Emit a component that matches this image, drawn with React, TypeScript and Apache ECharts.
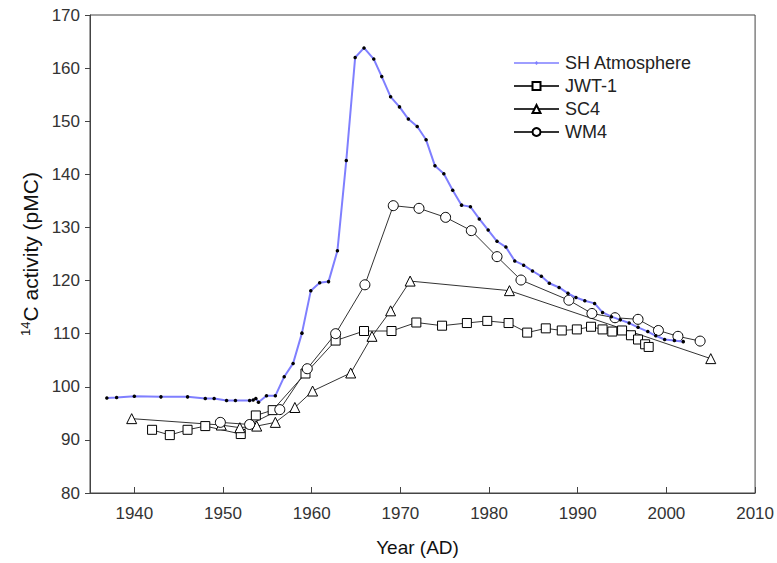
import React, { useEffect, useRef } from 'react';
import * as echarts from 'echarts';

const shYears = [1936.9, 1938.0, 1940.0, 1943.0, 1946.0, 1948.0, 1949.0, 1950.4, 1951.4, 1953.0, 1953.4, 1953.7, 1954.0, 1954.9, 1955.9, 1956.9, 1957.9, 1958.9, 1959.9, 1960.9, 1961.9, 1962.9, 1963.9, 1964.9, 1965.9, 1967.0, 1967.9, 1968.9, 1969.9, 1970.9, 1971.9, 1972.9, 1973.9, 1974.9, 1975.9, 1976.9, 1977.9, 1978.9, 1979.9, 1980.9, 1981.9, 1982.9, 1983.9, 1984.9, 1985.9, 1986.8, 1987.9, 1988.9, 1989.8, 1990.8, 1991.9, 1992.8, 1993.8, 1994.8, 1995.8, 1996.8, 1997.9, 1998.8, 1999.8, 2000.9, 2001.9];
const shValues = [97.9, 98.0, 98.2, 98.1, 98.1, 97.8, 97.8, 97.4, 97.4, 97.4, 97.5, 97.8, 97.1, 98.3, 98.3, 101.9, 104.4, 110.1, 118.1, 119.6, 119.8, 125.6, 142.6, 162.0, 163.8, 161.7, 158.4, 154.6, 152.7, 150.4, 149.0, 146.5, 141.6, 140.1, 137.0, 134.2, 133.9, 131.6, 129.5, 127.4, 126.3, 123.7, 122.9, 121.8, 120.8, 119.5, 118.7, 117.6, 116.8, 116.2, 115.7, 114.0, 113.2, 112.6, 112.0, 111.2, 110.4, 109.6, 108.9, 108.7, 108.5];

const jwtYears = [1942.0, 1944.0, 1946.0, 1948.0, 1952.0, 1953.7, 1955.6, 1959.3, 1962.7, 1965.9, 1969.0, 1971.8, 1974.7, 1977.5, 1979.8, 1982.2, 1984.3, 1986.4, 1988.2, 1989.9, 1991.5, 1992.8, 1993.9, 1995.0, 1996.0, 1996.8, 1997.6, 1998.0];
const jwtValues = [91.9, 90.9, 91.9, 92.6, 91.1, 94.6, 95.6, 102.5, 108.7, 110.5, 110.5, 112.1, 111.5, 112.0, 112.4, 112.0, 110.2, 111.0, 110.6, 110.8, 111.3, 110.8, 110.4, 110.6, 109.7, 108.9, 108.0, 107.5];

const sc4Years = [1939.7, 1949.8, 1951.9, 1953.8, 1955.9, 1958.1, 1960.1, 1964.4, 1966.8, 1968.9, 1971.1, 1982.3, 2005.0];
const sc4Values = [94.0, 92.8, 92.3, 92.6, 93.3, 96.1, 99.2, 102.6, 109.5, 114.3, 119.9, 118.1, 105.3];

const wm4Years = [1949.7, 1953.0, 1956.4, 1959.5, 1962.7, 1966.0, 1969.2, 1972.1, 1975.1, 1978.0, 1980.9, 1983.6, 1989.0, 1991.6, 1994.2, 1996.8, 1999.1, 2001.3, 2003.8];
const wm4Values = [93.3, 92.9, 95.7, 103.4, 110.0, 119.2, 134.1, 133.6, 131.9, 129.4, 124.5, 120.1, 116.3, 113.8, 113.0, 112.7, 110.6, 109.5, 108.6];

const xTicks = [1940, 1950, 1960, 1970, 1980, 1990, 2000, 2010];
const seriesNames = ['SH Atmosphere', 'JWT-1', 'SC4', 'WM4'];

const pairs = (xs: number[], ys: number[]) => xs.map((x, i) => [x, ys[i]]);

const FONT = 'Liberation Sans, Arial, sans-serif';
const SH_BLUE = '#7f7fff';
const SH_ICON = 'path://M0,4.2 L45,4.2 L45,5.8 L0,5.8 Z M22.5,3 L24.5,5 L22.5,7 L20.5,5 Z';

export default function App() {
  const ref = useRef<HTMLDivElement>(null);
  useEffect(() => {
    const chart = echarts.init(ref.current!, null, { renderer: 'svg' });
    const hollow = (symbol: string, size: number, name: string, xs: number[], ys: number[]) => ({
      name,
      type: 'line',
      data: pairs(xs, ys),
      symbol,
      symbolSize: size,
      showAllSymbol: true,
      lineStyle: { color: '#333', width: 1 },
      itemStyle: { color: '#fff', borderColor: '#000', borderWidth: 1 },
      z: 2,
    });
    chart.setOption({
      animation: false,
      backgroundColor: '#fff',
      textStyle: { fontFamily: FONT },
      grid: { left: 90, right: 20, top: 15, bottom: 70, show: true, borderColor: '#444', borderWidth: 1 },
      legend: {
        data: [
          { name: seriesNames[0], icon: SH_ICON, itemStyle: { color: SH_BLUE } },
          seriesNames[1],
          seriesNames[2],
          seriesNames[3],
        ],
        orient: 'vertical',
        left: 508,
        top: 49,
        itemWidth: 45,
        itemHeight: 10,
        itemGap: 5,
        textStyle: { fontSize: 18, color: '#222', fontFamily: FONT, padding: [0, 0, 0, 1] },
      },
      xAxis: {
        type: 'value',
        min: 1935,
        max: 2010,
        interval: 5,
        name: 'Year (AD)',
        nameLocation: 'middle',
        nameGap: 45,
        nameTextStyle: { fontSize: 19, color: '#111', fontFamily: FONT, padding: [0, 10, 0, 0] },
        axisLine: { show: true, lineStyle: { color: '#444', width: 1 } },
        axisTick: { show: true, inside: true, length: 6, lineStyle: { color: '#444' }, customValues: xTicks },
        axisLabel: {
          fontSize: 17,
          color: '#333',
          margin: 12,
          customValues: xTicks,
          fontFamily: FONT,
          formatter: (v: number) => String(v),
        },
        splitLine: { show: false },
      },
      yAxis: {
        type: 'value',
        min: 80,
        max: 170,
        interval: 10,
        name: '{sup|14}{n|C activity (pMC)}',
        nameLocation: 'middle',
        nameGap: 47,
        nameTextStyle: {
          fontFamily: FONT,
          color: '#111',
          rich: {
            sup: { fontSize: 13, color: '#111', fontFamily: FONT, padding: [0, 0, 9, 0] },
            n: { fontSize: 21, color: '#111', fontFamily: FONT },
          },
        },
        axisLine: { show: true, lineStyle: { color: '#444', width: 1 } },
        axisTick: { show: true, inside: false, length: 5, lineStyle: { color: '#444' } },
        axisLabel: { fontSize: 17, color: '#333', margin: 10, fontFamily: FONT },
        splitLine: { show: false },
      },
      series: [
        hollow('rect', 9, 'JWT-1', jwtYears, jwtValues),
        hollow('triangle', 10, 'SC4', sc4Years, sc4Values),
        hollow('circle', 10, 'WM4', wm4Years, wm4Values),
        {
          name: 'SH Atmosphere',
          type: 'line',
          data: pairs(shYears, shValues),
          symbol: 'circle',
          symbolSize: 3.5,
          showAllSymbol: true,
          lineStyle: { color: SH_BLUE, width: 2 },
          itemStyle: { color: '#000' },
          z: 3,
        },
      ],
    });
    return () => chart.dispose();
  }, []);
  return <div ref={ref} style={{ position: 'fixed', left: 0, top: 0, width: 777, height: 563 }} />;
}
